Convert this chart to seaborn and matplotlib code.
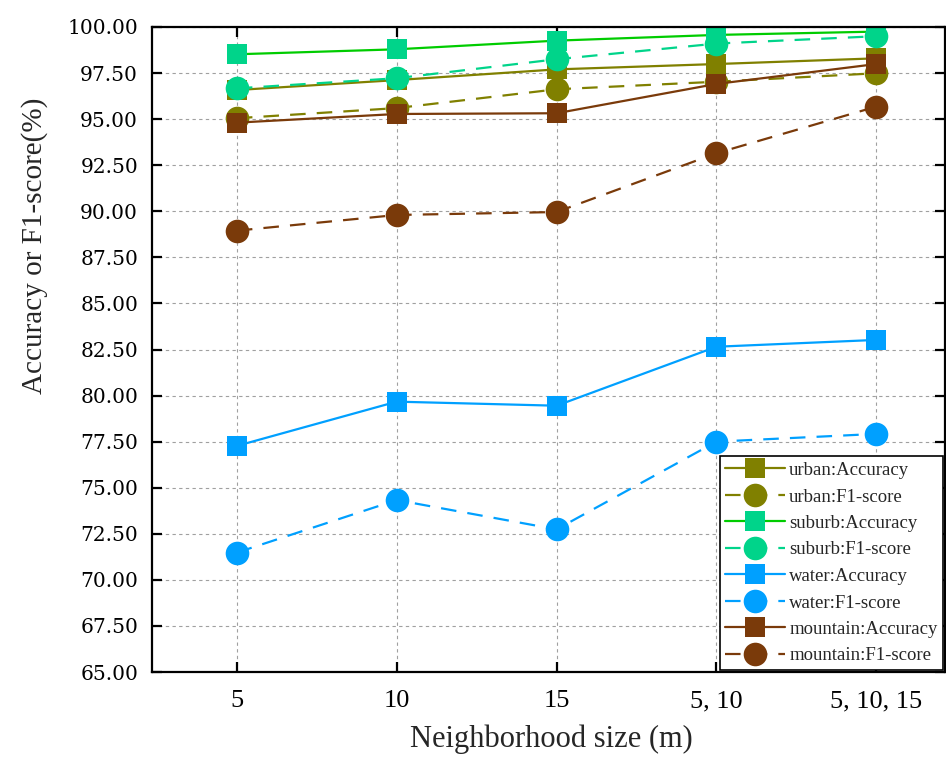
import numpy as np
import pandas as pd
import matplotlib
matplotlib.use("Agg")
import matplotlib.pyplot as plt
import seaborn as sns

categories = ["5", "10", "15", "5, 10", "5, 10, 15"]

urban_acc = [96.58, 97.12, 97.70, 97.99, 98.30]
urban_f1 = [95.05, 95.60, 96.62, 97.03, 97.49]
suburb_acc = [98.52, 98.79, 99.26, 99.57, 99.75]
suburb_f1 = [96.67, 97.22, 98.25, 99.10, 99.50]
water_acc = [77.27, 79.67, 79.45, 82.65, 83.02]
water_f1 = [71.48, 74.33, 72.74, 77.50, 77.92]
mountain_acc = [94.81, 95.28, 95.32, 96.91, 97.99]
mountain_f1 = [88.95, 89.80, 89.96, 93.15, 95.68]

y_ticks = [65.0, 67.5, 70.0, 72.5, 75.0, 77.5, 80.0, 82.5, 85.0, 87.5,
           90.0, 92.5, 95.0, 97.5, 100.0]

series = [
    ("urban:Accuracy", urban_acc, "#808000", "#808000", "s", "-"),
    ("urban:F1-score", urban_f1, "#808000", "#808000", "o", "--"),
    ("suburb:Accuracy", suburb_acc, "#00cc00", "#00d48a", "s", "-"),
    ("suburb:F1-score", suburb_f1, "#00d48a", "#00d48a", "o", "--"),
    ("water:Accuracy", water_acc, "#00a0ff", "#00a0ff", "s", "-"),
    ("water:F1-score", water_f1, "#00a0ff", "#00a0ff", "o", "--"),
    ("mountain:Accuracy", mountain_acc, "#7a3a0a", "#7a3a0a", "s", "-"),
    ("mountain:F1-score", mountain_f1, "#7a3a0a", "#7a3a0a", "o", "--"),
]

sns.set_theme(style="white")
plt.rcParams["font.family"] = ["Liberation Serif", "DejaVu Serif"]

fig = plt.figure(figsize=(9.46, 7.58), dpi=100)
ax = fig.add_axes([152 / 946, 86 / 758, 793 / 946, 645 / 758])

pos = np.arange(len(categories))
for label, vals, lc, mc, mk, ls in series:
    df = pd.DataFrame({"x": pos, "y": vals})
    ms = 15 if mk == "s" else 17
    sns.lineplot(data=df, x="x", y="y", ax=ax, color=lc, linewidth=1.6,
                 linestyle=ls, marker=mk, markersize=ms,
                 markerfacecolor=mc, markeredgecolor=mc, markeredgewidth=0,
                 label=label)
    if ls == "--":
        ax.lines[-1].set_dashes([7, 5])

ax.set_xlim(-0.531, 4.43)
ax.set_ylim(65, 100)
ax.set_xticks(pos)
ax.set_xticklabels(categories, fontsize=19, family=["Liberation Serif"])
ax.set_yticks(y_ticks)
ax.set_yticklabels([f"{v:.2f}" for v in y_ticks], fontsize=14.5,
                   family=["DejaVu Serif"])

ax.grid(True, color="#a0a0a0", linestyle=(0, (3, 3)), linewidth=0.8)
ax.set_axisbelow(True)
for s in ax.spines.values():
    s.set_color("black")
    s.set_linewidth(1.6)

ax.tick_params(axis="both", which="major", direction="in", length=7,
               width=1.6, top=True, right=True, bottom=True, left=True,
               colors="black", pad=10)
ax.tick_params(axis="x", pad=13)

ax.set_xlabel("Neighborhood size (m)", fontsize=22)
ax.xaxis.set_label_coords(0.503, -0.082, transform=ax.transAxes)
ax.set_ylabel("Accuracy or F1-score(%)", fontsize=21)
ax.yaxis.set_label_coords(-0.131, 0.66, transform=ax.transAxes)

leg = ax.legend(loc="lower right", bbox_to_anchor=(1.0, 0.0),
                fontsize=13.5, frameon=True, fancybox=False, framealpha=1,
                edgecolor="black", handlelength=3.2, labelspacing=0.5,
                borderpad=0.3, handletextpad=0.2, borderaxespad=0.1)
leg.get_frame().set_linewidth(1.2)

fig.savefig("out.png", dpi=100)
